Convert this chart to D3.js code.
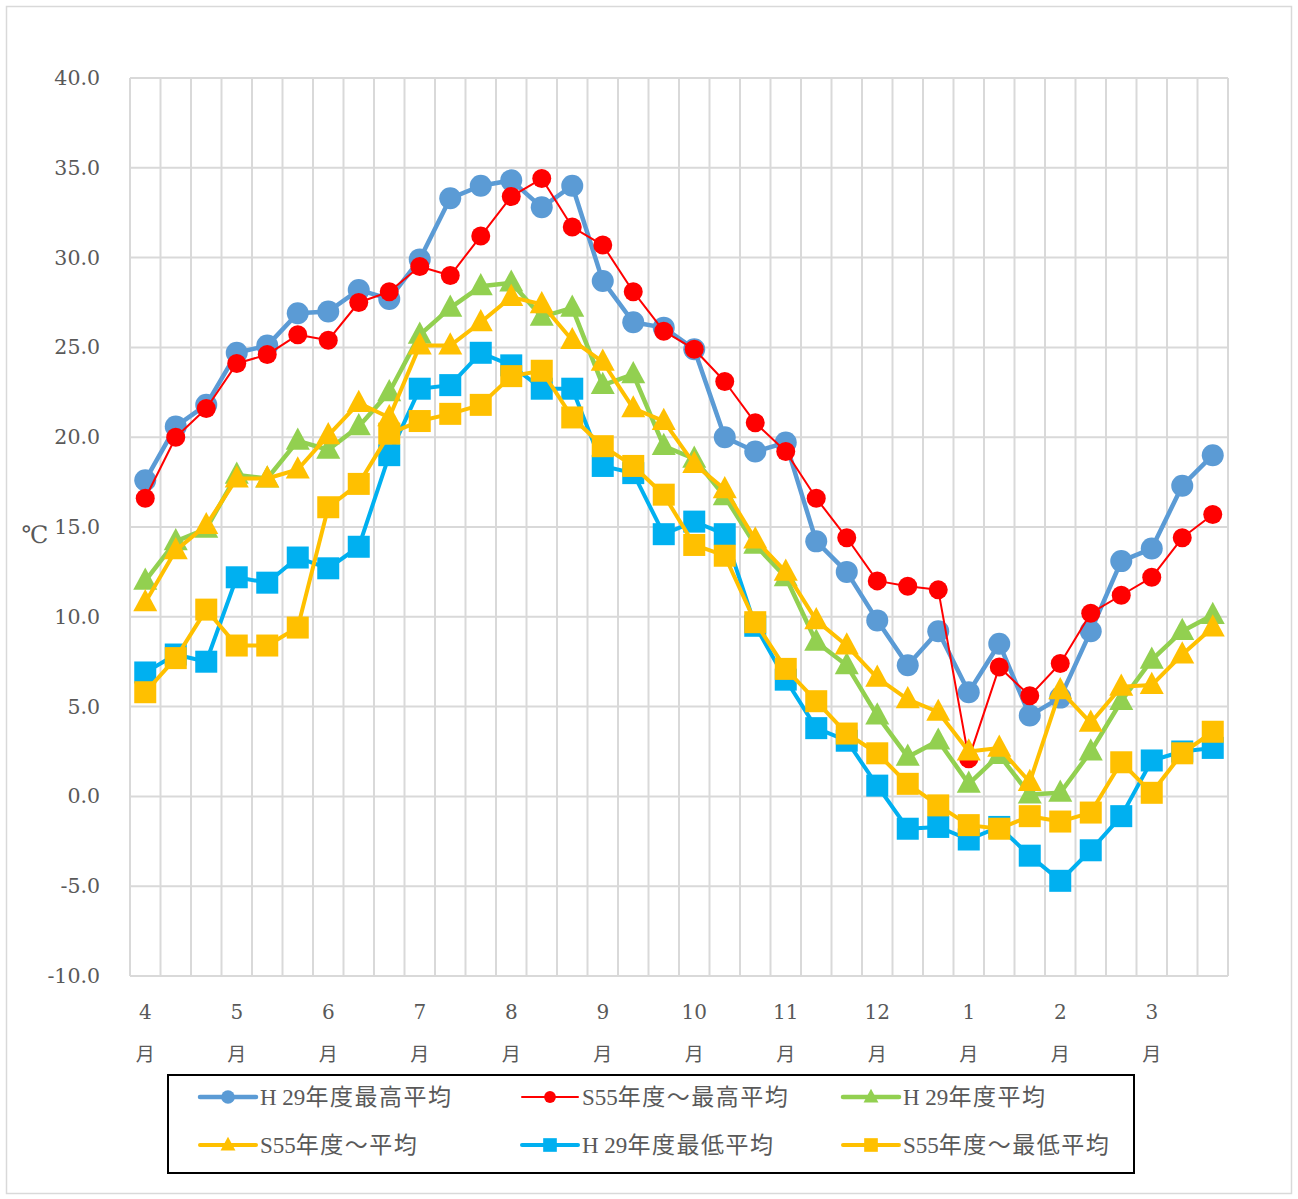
<!DOCTYPE html>
<html><head><meta charset="utf-8">
<script src="https://cdn.jsdelivr.net/npm/d3@7"></script>
<style>
body{margin:0;background:#fff;}
text{font-family:"Liberation Serif","DejaVu Serif","Noto Sans CJK JP",serif;}
</style></head>
<body><svg id="c" width="1298" height="1199"></svg>
<script>
const monthLabels = ["4","5","6","7","8","9","10","11","12","1","2","3"];
const periods = ["上旬","中旬","下旬"];
const categories = monthLabels.flatMap(m => periods.map(p => m + "月" + p));
const yTicks = [-10,-5,0,5,10,15,20,25,30,35,40];

const seriesNames = ["H29年度最高平均","S55年度～最高平均","H29年度平均","S55年度～平均","H29年度最低平均","S55年度～最低平均"];
const h29Max = [17.6,20.6,21.8,24.7,25.1,26.9,27.0,28.2,27.7,29.9,33.3,34.0,34.3,32.8,34.0,28.7,26.4,26.1,24.9,20.0,19.2,19.7,14.2,12.5,9.8,7.3,9.2,5.8,8.5,4.5,5.5,9.2,13.1,13.8,17.3,19.0];
const s55Max = [16.6,20.0,21.6,24.1,24.6,25.7,25.4,27.5,28.1,29.5,29.0,31.2,33.4,34.4,31.7,30.7,28.1,25.9,24.9,23.1,20.8,19.2,16.6,14.4,12.0,11.7,11.5,2.1,7.2,5.6,7.4,10.2,11.2,12.2,14.4,15.7];
const h29Avg = [12.0,14.2,14.9,17.9,17.7,19.8,19.3,20.6,22.5,25.7,27.2,28.4,28.6,26.7,27.2,22.9,23.5,19.5,18.8,16.7,14.0,12.2,8.6,7.3,4.5,2.2,3.1,0.7,2.3,0.1,0.2,2.5,5.3,7.6,9.2,10.1];
const s55Avg = [10.8,13.7,15.1,17.7,17.7,18.2,20.1,21.9,21.1,25.1,25.1,26.4,27.8,27.4,25.4,24.2,21.6,20.9,18.5,17.1,14.3,12.5,9.8,8.4,6.6,5.4,4.7,2.5,2.7,0.8,5.9,4.1,6.1,6.2,7.9,9.4];
const h29Min = [6.9,7.9,7.5,12.2,11.9,13.3,12.7,13.9,19.0,22.7,22.9,24.7,24.0,22.7,22.7,18.4,18.0,14.6,15.3,14.6,9.5,6.5,3.8,3.1,0.6,-1.8,-1.7,-2.4,-1.7,-3.3,-4.7,-3.0,-1.1,2.0,2.5,2.7];
const s55Min = [5.8,7.7,10.4,8.4,8.4,9.4,16.1,17.4,20.2,20.9,21.3,21.8,23.4,23.7,21.1,19.5,18.4,16.8,14.0,13.4,9.7,7.1,5.3,3.5,2.4,0.7,-0.5,-1.6,-1.8,-1.1,-1.4,-0.9,1.9,0.2,2.4,3.6];

const series = [
  {name:seriesNames[0], values:h29Max, color:"#5B9BD5", lw:4.5, marker:"circle", size:11},
  {name:seriesNames[1], values:s55Max, color:"#FF0000", lw:2, marker:"circle", size:9.5},
  {name:seriesNames[2], values:h29Avg, color:"#92D050", lw:4.5, marker:"triangle", size:12},
  {name:seriesNames[3], values:s55Avg, color:"#FFC000", lw:4, marker:"triangle", size:12},
  {name:seriesNames[4], values:h29Min, color:"#00B0F0", lw:4, marker:"square", size:11},
  {name:seriesNames[5], values:s55Min, color:"#FFC000", lw:4, marker:"square", size:11}
];

const svg = d3.select("#c");
svg.append("rect").attr("x",6.5).attr("y",6.5).attr("width",1285).attr("height",1187)
  .attr("fill","#fff").attr("stroke","#D9D9D9").attr("stroke-width",1.5);

const L=130, R=1228, T=78, B=976;
const x = d3.scaleBand().domain(d3.range(categories.length)).range([L,R]).padding(0);
const y = d3.scaleLinear().domain([-10,40]).range([B,T]);
const cx = i => x(i) + x.bandwidth()/2;

const grid = svg.append("g");
grid.selectAll("line.h").data(yTicks).join("line")
  .attr("x1",L).attr("x2",R).attr("y1",d=>y(d)).attr("y2",d=>y(d))
  .attr("stroke","#D9D9D9").attr("stroke-width",2);
grid.selectAll("line.v").data(d3.range(categories.length+1)).join("line")
  .attr("x1",d=>L+d*x.bandwidth()).attr("x2",d=>L+d*x.bandwidth()).attr("y1",T).attr("y2",B)
  .attr("stroke","#D9D9D9").attr("stroke-width",2);

const numFont = '"DejaVu Serif","Liberation Serif",serif';
// Y axis
const fmt = d3.format(".1f");
const yAxis = svg.append("g").attr("transform",`translate(${L},0)`)
  .call(d3.axisLeft(y).tickValues(yTicks).tickFormat(d => fmt(d).replace("−","-")).tickSize(0).tickPadding(30));
yAxis.select(".domain").remove();
yAxis.selectAll("text").attr("font-size",20.5).attr("fill","#595959").attr("font-weight","normal")
  .style("font-family",numFont);

svg.append("text").attr("x",35).attr("y",543).attr("text-anchor","middle")
  .attr("font-size",24).attr("fill","#595959").text("℃");

// X axis
const xAxis = svg.append("g").attr("transform",`translate(0,${B})`)
  .call(d3.axisBottom(x).tickValues(d3.range(0,36,3)).tickSize(0).tickFormat(()=>""));
xAxis.select(".domain").remove();
xAxis.selectAll(".tick").each(function(d){
  const t = d3.select(this).select("text").text(null).attr("dy",null)
    .attr("fill","#595959").attr("font-size",20).attr("y",0);
  t.append("tspan").attr("x",0).attr("y",43).text(monthLabels[d/3]).style("font-family",numFont);
  t.append("tspan").attr("x",0).attr("y",85).text("月")
   .style("font-family",'"Noto Sans CJK JP",sans-serif').attr("font-size",19);
});

function drawMarker(g, type, px, py, s, color){
  if(type==="circle"){
    g.append("circle").attr("cx",px).attr("cy",py).attr("r",s).attr("fill",color);
  } else if(type==="triangle"){
    const h = s*1.85;
    g.append("path").attr("d",`M${px},${py-h*0.6}L${px+s},${py+h*0.4}L${px-s},${py+h*0.4}Z`).attr("fill",color);
  } else {
    g.append("rect").attr("x",px-s).attr("y",py-s).attr("width",2*s).attr("height",2*s).attr("fill",color);
  }
}

const line = d3.line().x((d,i)=>cx(i)).y(d=>y(d));
series.forEach(s=>{
  const g = svg.append("g");
  g.append("path").datum(s.values).attr("d",line).attr("fill","none")
    .attr("stroke",s.color).attr("stroke-width",s.lw).attr("stroke-linejoin","round");
  s.values.forEach((v,i)=>drawMarker(g,s.marker,cx(i),y(v),s.size,s.color));
});

// Legend
svg.append("rect").attr("x",168).attr("y",1075).attr("width",966).attr("height",98)
  .attr("fill","#fff").attr("stroke","#000").attr("stroke-width",2);
const legPos = [[200,1097],[522,1097],[843,1097],[200,1145],[522,1145],[843,1145]];
series.forEach((s,k)=>{
  const [lx,ly] = legPos[k];
  const g = svg.append("g");
  g.append("line").attr("x1",lx).attr("x2",lx+56).attr("y1",ly).attr("y2",ly)
    .attr("stroke",s.color).attr("stroke-width",s.lw).attr("stroke-linecap","round");
  drawMarker(g,s.marker,lx+28,ly,s.size*0.62,s.color);
  const name = s.name;
  const t = g.append("text").attr("x",lx+60).attr("y",ly+8).attr("font-size",23).attr("fill","#595959");
  t.append("tspan").style("font-family",'"Liberation Serif",serif').text(name.slice(0,3).replace("H","H "));
  t.append("tspan").style("font-family",'"Noto Sans CJK JP",sans-serif').attr("letter-spacing",1.5).text(name.slice(3));
});
</script></body></html>
